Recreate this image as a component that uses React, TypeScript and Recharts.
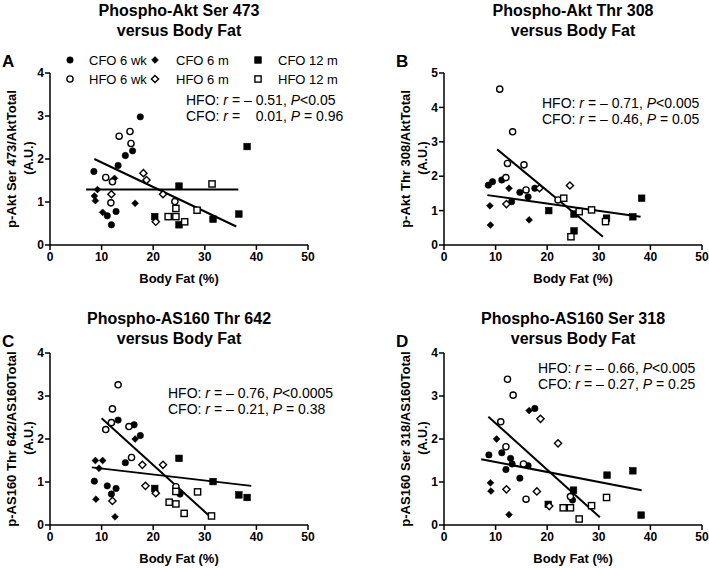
import React from "react";
import { ScatterChart, Scatter, XAxis, YAxis, ReferenceLine } from "recharts";

type Grp = "cfo6wk" | "hfo6wk" | "cfo6m" | "hfo6m" | "cfo12m" | "hfo12m";
type Pt = [Grp, number, number];
type Seg = [[number, number], [number, number]];

const bodyFatTicks = [0, 10, 20, 30, 40, 50];

// Phospho-Akt Ser 473 : [group, body fat %, A.U.]
const ser473: Pt[] = [
  ["cfo6wk", 17.5, 2.98], ["cfo6wk", 16.0, 2.19], ["cfo6wk", 14.6, 2.08], ["cfo6wk", 13.2, 1.85],
  ["cfo6wk", 8.5, 1.71], ["cfo6wk", 12.8, 0.78], ["cfo6wk", 11.1, 0.68], ["cfo6wk", 11.9, 0.47],
  ["hfo6wk", 13.4, 2.53], ["hfo6wk", 15.5, 2.64], ["hfo6wk", 15.7, 2.36], ["hfo6wk", 10.8, 1.57],
  ["hfo6wk", 12.1, 1.47], ["hfo6wk", 11.8, 0.98], ["hfo6wk", 24.2, 1.01],
  ["cfo6m", 12.5, 1.55], ["cfo6m", 9.2, 1.29], ["cfo6m", 8.6, 1.14], ["cfo6m", 8.8, 1.03],
  ["cfo6m", 16.5, 0.97], ["cfo6m", 10.2, 0.76],
  ["hfo6m", 18.1, 1.67], ["hfo6m", 18.7, 1.51], ["hfo6m", 21.9, 1.18], ["hfo6m", 11.9, 1.18],
  ["hfo6m", 20.5, 0.54],
  ["cfo12m", 38.2, 2.29], ["cfo12m", 25.0, 1.37], ["cfo12m", 20.3, 0.66], ["cfo12m", 25.0, 0.47],
  ["cfo12m", 31.6, 0.6], ["cfo12m", 36.6, 0.72],
  ["hfo12m", 31.4, 1.42], ["hfo12m", 28.5, 0.81], ["hfo12m", 22.9, 0.66], ["hfo12m", 24.4, 0.66],
  ["hfo12m", 24.4, 0.85], ["hfo12m", 26.1, 0.54],
];
const ser473HfoFit: Seg = [[8.6, 2.0], [36.1, 0.43]];
const ser473CfoFit: Seg = [[7.0, 1.29], [36.5, 1.29]];

// Phospho-Akt Thr 308
const thr308: Pt[] = [
  ["hfo6wk", 10.8, 4.53], ["hfo6wk", 13.3, 3.29], ["hfo6wk", 12.3, 2.37], ["hfo6wk", 15.5, 2.33],
  ["hfo6wk", 12.0, 1.96], ["hfo6wk", 15.9, 1.6], ["hfo6wk", 22.1, 1.31],
  ["cfo6wk", 8.6, 1.74], ["cfo6wk", 9.4, 1.84], ["cfo6wk", 11.2, 1.89], ["cfo6wk", 14.7, 1.53],
  ["cfo6wk", 16.3, 1.4], ["cfo6wk", 17.6, 1.65], ["cfo6wk", 13.1, 1.26],
  ["cfo6m", 8.9, 1.14], ["cfo6m", 9.0, 0.58], ["cfo6m", 12.6, 1.65], ["cfo6m", 16.5, 0.73],
  ["hfo6m", 24.4, 1.73], ["hfo6m", 18.5, 1.65], ["hfo6m", 12.1, 1.19],
  ["cfo12m", 20.3, 1.0], ["cfo12m", 25.2, 0.9], ["cfo12m", 38.3, 1.36], ["cfo12m", 36.6, 0.82],
  ["cfo12m", 31.5, 0.78], ["cfo12m", 25.2, 0.41],
  ["hfo12m", 23.2, 1.36], ["hfo12m", 26.2, 0.97], ["hfo12m", 28.6, 1.02], ["hfo12m", 31.3, 0.68],
  ["hfo12m", 24.6, 0.24],
];
const thr308HfoFit: Seg = [[10.3, 2.78], [30.8, 0.24]];
const thr308CfoFit: Seg = [[8.4, 1.45], [38.1, 0.82]];

// Phospho-AS160 Thr 642
const thr642: Pt[] = [
  ["hfo6wk", 13.2, 3.26], ["hfo6wk", 12.1, 2.7], ["hfo6wk", 10.8, 2.22], ["hfo6wk", 11.9, 2.38],
  ["hfo6wk", 15.3, 2.29], ["hfo6wk", 15.8, 1.57], ["hfo6wk", 24.4, 0.89],
  ["cfo6wk", 13.2, 2.44], ["cfo6wk", 16.3, 2.33], ["cfo6wk", 17.5, 2.08], ["cfo6wk", 14.6, 1.45],
  ["cfo6wk", 8.6, 1.02], ["cfo6wk", 11.1, 0.91], ["cfo6wk", 12.8, 0.85], ["cfo6wk", 11.9, 0.72],
  ["cfo6wk", 25.2, 0.72],
  ["cfo6m", 8.8, 1.5], ["cfo6m", 10.2, 1.5], ["cfo6m", 9.5, 1.32], ["cfo6m", 16.5, 2.0],
  ["cfo6m", 8.9, 0.6], ["cfo6m", 12.6, 0.19],
  ["hfo6m", 17.9, 1.4], ["hfo6m", 21.9, 1.4], ["hfo6m", 18.5, 0.91], ["hfo6m", 20.5, 0.74],
  ["hfo6m", 12.1, 0.56],
  ["cfo12m", 25.0, 1.55], ["cfo12m", 31.6, 1.01], ["cfo12m", 20.3, 0.85], ["cfo12m", 36.6, 0.7],
  ["cfo12m", 38.2, 0.64],
  ["hfo12m", 24.4, 0.78], ["hfo12m", 28.6, 0.77], ["hfo12m", 23.1, 0.53], ["hfo12m", 24.4, 0.49],
  ["hfo12m", 26.0, 0.27], ["hfo12m", 31.3, 0.21],
];
const thr642HfoFit: Seg = [[10.0, 2.48], [31.0, 0.2]];
const thr642CfoFit: Seg = [[8.1, 1.34], [39.0, 0.91]];

// Phospho-AS160 Ser 318
const ser318: Pt[] = [
  ["hfo6wk", 12.3, 3.39], ["hfo6wk", 13.4, 3.02], ["hfo6wk", 11.0, 2.4], ["hfo6wk", 12.0, 1.82],
  ["hfo6wk", 15.4, 1.42], ["hfo6wk", 15.9, 0.6], ["hfo6wk", 24.5, 0.66],
  ["cfo6wk", 8.7, 1.63], ["cfo6wk", 11.2, 1.68], ["cfo6wk", 12.9, 1.55], ["cfo6wk", 13.2, 1.42],
  ["cfo6wk", 12.0, 1.29], ["cfo6wk", 14.7, 1.09], ["cfo6wk", 16.3, 1.38], ["cfo6wk", 17.6, 2.71],
  ["cfo6wk", 24.9, 0.58],
  ["cfo6m", 10.2, 2.0], ["cfo6m", 16.5, 2.66], ["cfo6m", 9.0, 0.98], ["cfo6m", 9.1, 0.79],
  ["cfo6m", 12.6, 0.24],
  ["hfo6m", 18.7, 2.47], ["hfo6m", 22.1, 1.9], ["hfo6m", 12.1, 0.83], ["hfo6m", 18.0, 0.78],
  ["hfo6m", 20.4, 0.44],
  ["cfo12m", 31.6, 1.16], ["cfo12m", 36.6, 1.26], ["cfo12m", 25.1, 0.81], ["cfo12m", 20.2, 0.48],
  ["cfo12m", 38.2, 0.23],
  ["hfo12m", 31.5, 0.64], ["hfo12m", 28.6, 0.45], ["hfo12m", 23.1, 0.4], ["hfo12m", 24.5, 0.4],
  ["hfo12m", 26.2, 0.14],
];
const ser318HfoFit: Seg = [[8.6, 2.52], [30.2, 0.18]];
const ser318CfoFit: Seg = [[7.2, 1.53], [38.3, 0.81]];

const groups: { key: Grp; kind: string; filled: boolean; label: string }[] = [
  { key: "cfo6wk", kind: "circle", filled: true, label: "CFO 6 wk" },
  { key: "cfo6m", kind: "diamond", filled: true, label: "CFO 6 m" },
  { key: "cfo12m", kind: "square", filled: true, label: "CFO 12 m" },
  { key: "hfo6wk", kind: "circle", filled: false, label: "HFO 6 wk" },
  { key: "hfo6m", kind: "diamond", filled: false, label: "HFO 6 m" },
  { key: "hfo12m", kind: "square", filled: false, label: "HFO 12 m" },
];

const FONT = '"Liberation Sans", Arial, Helvetica, sans-serif';

function Marker({ cx, cy, kind, filled }: any) {
  if (cx == null || cy == null) return null;
  const fill = filled ? "#000" : "#fff";
  const sw = filled ? 0.6 : 1.4;
  if (kind === "circle") {
    return <circle cx={cx} cy={cy} r={filled ? 3.2 : 3.1} fill={fill} stroke="#000" strokeWidth={sw} />;
  }
  if (kind === "square") {
    const h = filled ? 3.3 : 3.1;
    return <rect x={cx - h} y={cy - h} width={2 * h} height={2 * h} fill={fill} stroke="#000" strokeWidth={sw} />;
  }
  const d = filled ? 3.4 : 3.6;
  return (
    <polygon
      points={`${cx},${cy - d} ${cx + d},${cy} ${cx},${cy + d} ${cx - d},${cy}`}
      fill={fill}
      stroke="#000"
      strokeWidth={sw}
    />
  );
}

function MarkerIcon({ kind, filled }: { kind: string; filled: boolean }) {
  return (
    <svg width={12} height={12} style={{ display: "block" }}>
      <Marker cx={6} cy={6} kind={kind} filled={filled} />
    </svg>
  );
}

const abs = (style: React.CSSProperties): React.CSSProperties => ({
  position: "absolute",
  whiteSpace: "pre",
  lineHeight: 1,
  ...style,
});

interface PanelProps {
  ox: number;
  oy: number;
  letter: string;
  title: string;
  titleY: number;
  yLabel: string;
  yMax: number;
  points: Pt[];
  hfoFit: Seg;
  cfoFit: Seg;
  hfoText: React.ReactNode;
  cfoText: React.ReactNode;
  statX: number;
  statY: number;
  legend?: boolean;
}

function Stat({ name, r, p }: { name: string; r: string; p: string }) {
  return (
    <>
      {name}: <i>r</i> ={r}, <i>P</i>
      {p}
    </>
  );
}

function Panel(props: PanelProps) {
  const { ox, oy, yMax } = props;
  const yTicks = Array.from({ length: yMax + 1 }, (_, i) => i);
  const cx = ox + 179;
  const axisStyle = { stroke: "#000", strokeWidth: 1.5 };
  const tick = { fontSize: 12, fontWeight: 700, fill: "#000", fontFamily: FONT };
  return (
    <>
      <div style={abs({ left: ox, top: oy, width: 394, height: 280 })}>
        <ScatterChart width={394} height={280} margin={{ top: 73, right: 86, bottom: 0, left: 0 }}>
          <XAxis
            type="number"
            dataKey="x"
            domain={[0, 50]}
            ticks={bodyFatTicks}
            height={35}
            axisLine={axisStyle}
            tickLine={axisStyle}
            tickSize={5}
            tick={tick}
            interval={0}
          />
          <YAxis
            type="number"
            dataKey="y"
            domain={[0, yMax]}
            ticks={yTicks}
            width={50}
            axisLine={axisStyle}
            tickLine={axisStyle}
            tickSize={5}
            tickMargin={1}
            tick={tick}
            interval={0}
          />
          <ReferenceLine
            segment={[{ x: props.hfoFit[0][0], y: props.hfoFit[0][1] }, { x: props.hfoFit[1][0], y: props.hfoFit[1][1] }]}
            stroke="#000"
            strokeWidth={2}
          />
          <ReferenceLine
            segment={[{ x: props.cfoFit[0][0], y: props.cfoFit[0][1] }, { x: props.cfoFit[1][0], y: props.cfoFit[1][1] }]}
            stroke="#000"
            strokeWidth={2}
          />
          {groups.map((g) => (
            <Scatter
              key={g.key}
              data={props.points.filter((p) => p[0] === g.key).map((p) => ({ x: p[1], y: p[2] }))}
              isAnimationActive={false}
              shape={(s: any) => <Marker cx={s.cx} cy={s.cy} kind={g.kind} filled={g.filled} />}
            />
          ))}
        </ScatterChart>
      </div>

      {/* panel letter */}
      <div style={abs({ left: ox + 2, top: oy + 53, fontSize: 17, fontWeight: 700 })}>{props.letter}</div>

      {/* title */}
      <div style={abs({ left: cx, top: props.titleY, transform: "translate(-50%, -50%)", fontSize: 16, fontWeight: 700 })}>
        {props.title}
      </div>
      <div style={abs({ left: cx, top: props.titleY + 20, transform: "translate(-50%, -50%)", fontSize: 16, fontWeight: 700 })}>
        versus Body Fat
      </div>

      {/* y label */}
      <div
        style={abs({
          left: ox + 11,
          top: oy + 159,
          transform: "translate(-50%, -50%) rotate(-90deg)",
          fontSize: 13,
          fontWeight: 700,
        })}
      >
        {props.yLabel}
      </div>
      <div
        style={abs({
          left: ox + 29,
          top: oy + 158,
          transform: "translate(-50%, -50%) rotate(-90deg)",
          fontSize: 12.5,
          fontWeight: 700,
        })}
      >
        (A.U.)
      </div>

      {/* x label */}
      <div style={abs({ left: cx, top: oy + 278, transform: "translate(-50%, -50%)", fontSize: 13, fontWeight: 700 })}>
        Body Fat (%)
      </div>

      {/* stats */}
      <div style={abs({ left: props.statX, top: props.statY, transform: "translateY(-50%)", fontSize: 14 })}>
        {props.hfoText}
      </div>
      <div style={abs({ left: props.statX, top: props.statY + 16, transform: "translateY(-50%)", fontSize: 14 })}>
        {props.cfoText}
      </div>

      {props.legend &&
        groups.map((g, i) => {
          const col = i % 3;
          const row = Math.floor(i / 3);
          const sx = [70, 155, 258][col];
          const tx = [89, 176, 278][col];
          const y = 60 + row * 19;
          return (
            <React.Fragment key={g.key}>
              <div style={abs({ left: ox + sx - 6, top: oy + y - 6 })}>
                <MarkerIcon kind={g.kind} filled={g.filled} />
              </div>
              <div style={abs({ left: ox + tx, top: oy + y, transform: "translateY(-50%)", fontSize: 13 })}>
                {g.label}
              </div>
            </React.Fragment>
          );
        })}
    </>
  );
}

export default function App() {
  return (
    <div
      style={{
        position: "absolute",
        left: 0,
        top: 0,
        width: 709,
        height: 568,
        background: "#fff",
        fontFamily: FONT,
        color: "#000",
        overflow: "hidden",
      }}
    >
      <Panel
        ox={0}
        oy={0}
        letter="A"
        title="Phospho-Akt Ser 473"
        titleY={11}
        yLabel="p-Akt Ser 473/AktTotal"
        yMax={4}
        points={ser473}
        hfoFit={ser473HfoFit}
        cfoFit={ser473CfoFit}
        hfoText={<Stat name="HFO" r=" – 0.51" p="<0.05" />}
        cfoText={<Stat name="CFO" r="    0.01" p=" = 0.96" />}
        statX={186}
        statY={100}
        legend
      />
      <Panel
        ox={394}
        oy={0}
        letter="B"
        title="Phospho-Akt Thr 308"
        titleY={11}
        yLabel="p-Akt Thr 308/AktTotal"
        yMax={5}
        points={thr308}
        hfoFit={thr308HfoFit}
        cfoFit={thr308CfoFit}
        hfoText={<Stat name="HFO" r=" – 0.71" p="<0.005" />}
        cfoText={<Stat name="CFO" r=" – 0.46" p=" = 0.05" />}
        statX={542}
        statY={103}
      />
      <Panel
        ox={0}
        oy={280}
        letter="C"
        title="Phospho-AS160 Thr 642"
        titleY={319}
        yLabel="p-AS160 Thr 642/AS160Total"
        yMax={4}
        points={thr642}
        hfoFit={thr642HfoFit}
        cfoFit={thr642CfoFit}
        hfoText={<Stat name="HFO" r=" – 0.76" p="<0.0005" />}
        cfoText={<Stat name="CFO" r=" – 0.21" p=" = 0.38" />}
        statX={168}
        statY={393}
      />
      <Panel
        ox={394}
        oy={280}
        letter="D"
        title="Phospho-AS160 Ser 318"
        titleY={319}
        yLabel="p-AS160 Ser 318/AS160Total"
        yMax={4}
        points={ser318}
        hfoFit={ser318HfoFit}
        cfoFit={ser318CfoFit}
        hfoText={<Stat name="HFO" r=" – 0.66" p="<0.005" />}
        cfoText={<Stat name="CFO" r=" – 0.27" p=" = 0.25" />}
        statX={538}
        statY={368}
      />
    </div>
  );
}
